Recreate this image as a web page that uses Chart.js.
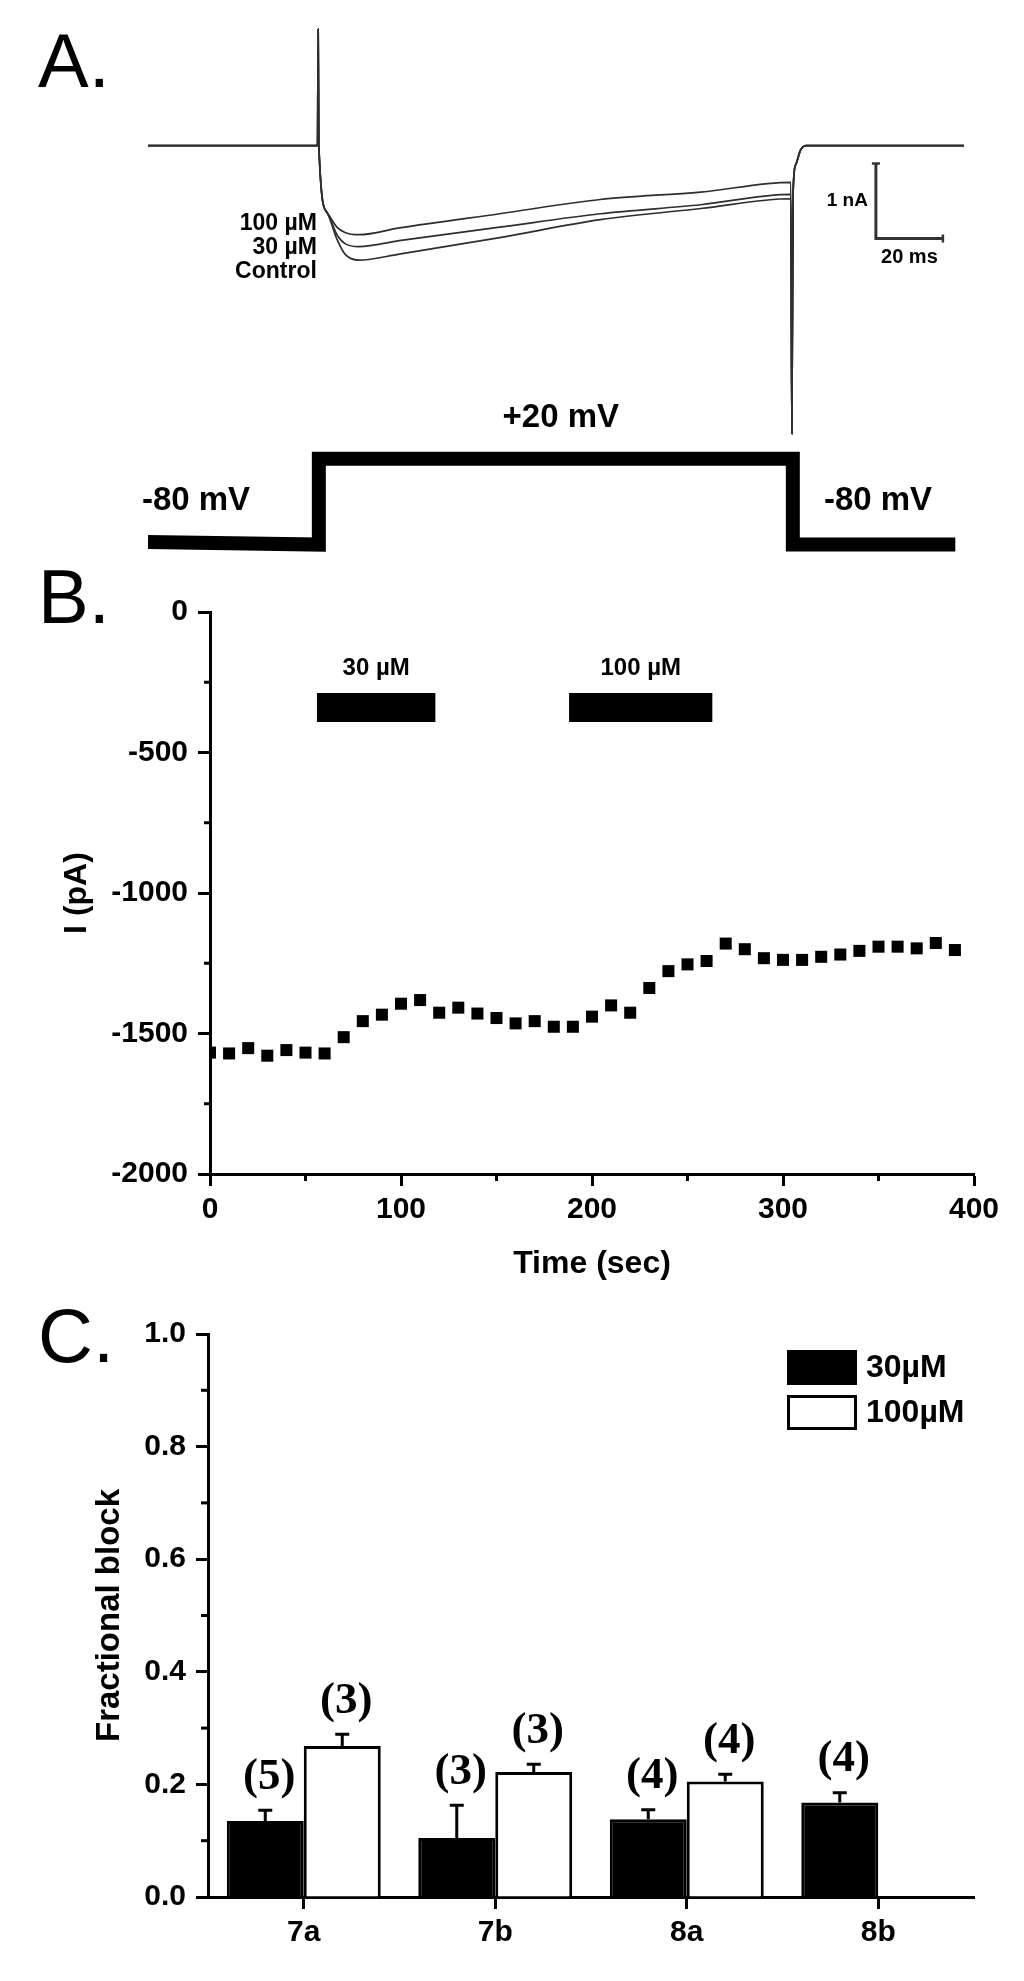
<!DOCTYPE html>
<html>
<head>
<meta charset="utf-8">
<script src="https://cdn.jsdelivr.net/npm/chart.js@4.4.1/dist/chart.umd.min.js"></script>
<style>
  body { margin: 0; background: #fff; }
  #page { position: relative; width: 1024px; height: 1981px; overflow: hidden; background: #fff; }
  canvas { position: absolute; left: 0; }
  .panel { position: absolute; left: 38px; font: 76px/76px 'Liberation Sans', Arial, sans-serif; color: #000; z-index: 2; }
</style>
</head>
<body>
<div id="page">
  <canvas id="chartA" width="1024" height="575" style="top:0"></canvas>
  <canvas id="chartB" width="1024" height="725" style="top:575px"></canvas>
  <canvas id="chartC" width="1024" height="681" style="top:1300px"></canvas>
  <div class="panel" style="top:23px">A.</div>
  <div class="panel" style="top:559px">B.</div>
  <div class="panel" style="top:1298px">C.</div>
</div>
<script>
const SANS = "'Liberation Sans', Arial, sans-serif";
const SERIF = "'Liberation Serif', 'Times New Roman', serif";

// A: current traces (ms, nA) during the voltage step
const traceTime = [0, 50.6, 50.8, 51.0, 53.4, 56.4, 58.8, 63, 75, 105, 135, 165, 191.9, 192.2, 192.6, 193.4, 194.8, 196.5, 243.6];
const traceControl = [0, 0, 1.56, 0, -0.89, -1.25, -1.45, -1.53, -1.45, -1.23, -0.99, -0.84, -0.71, -3.85, -0.6, -0.25, -0.06, 0, 0];
const trace30 = [0, 0, 1.56, 0, -0.89, -1.19, -1.31, -1.35, -1.27, -1.09, -0.91, -0.79, -0.65, -3.85, -0.6, -0.25, -0.06, 0, 0];
const trace100 = [0, 0, 1.56, 0, -0.89, -1.09, -1.16, -1.19, -1.10, -0.91, -0.72, -0.62, -0.49, -3.85, -0.6, -0.25, -0.06, 0, 0];
const traceNames = ['100 µM', '30 µM', 'Control'];

// A: voltage protocol (ms, mV)
const stepTime = [0, 51, 51, 192.5, 192.5, 241];
const stepVolt = [-77, -80, 20, 20, -80, -80];

// A: scale bar 20 ms / 1 nA
const barOrigin = [217.3, -1.24];
const barMs = 20;
const barNa = 1;

// B: time course
const timeSec = [0, 10, 20, 30, 40, 50, 60, 70, 80, 90, 100, 110, 120, 130, 140, 150, 160, 170, 180, 190,
  200, 210, 220, 230, 240, 250, 260, 270, 280, 290, 300, 310, 320, 330, 340, 350, 360, 370, 380, 390];
const currentPA = [-1568, -1571, -1552, -1579, -1559, -1568, -1571, -1513, -1456, -1433, -1394, -1381, -1426, -1408, -1429, -1445, -1464, -1456, -1476, -1476,
  -1440, -1400, -1426, -1338, -1278, -1254, -1242, -1180, -1200, -1232, -1238, -1238, -1227, -1219, -1206, -1191, -1191, -1197, -1178, -1203];
const drugNames = ['30 µM', '100 µM'];
const drugOn = [56, 188];
const drugOff = [118, 263];

// C: fractional block
const compounds = ['7a', '7b', '8a', '8b'];
const block30 = [0.135, 0.105, 0.138, 0.168];
const err30 = [0.019, 0.058, 0.017, 0.017];
const n30 = [5, 3, 4, 4];
const block100 = [0.268, 0.222, 0.205, null];
const err100 = [0.021, 0.014, 0.013, null];
const n100 = [3, 3, 4, null];

Chart.defaults.font.family = SANS;
Chart.defaults.color = '#000';
Chart.defaults.animation = false;

function pts(xs, ys) { return xs.map((x, i) => ({x: x, y: ys[i]})); }

// small ticks between the labelled ones
const minorTicks = {
  id: 'minorTicks',
  afterDraw(chart, args, opts) {
    const ctx = chart.ctx;
    ctx.save();
    ctx.strokeStyle = '#000';
    ctx.lineWidth = 3;
    (opts.list || []).forEach(m => {
      const s = chart.scales[m.axis];
      for (let v = m.from; v <= m.to + 1e-9; v += m.step) {
        const p = s.getPixelForValue(v);
        ctx.beginPath();
        if (s.isHorizontal()) { ctx.moveTo(p, s.top); ctx.lineTo(p, s.top + m.len); }
        else { ctx.moveTo(s.right, p); ctx.lineTo(s.right - m.len, p); }
        ctx.stroke();
      }
    });
    ctx.restore();
  }
};

const traceLabels = {
  id: 'traceLabels',
  afterDraw(chart) {
    const ctx = chart.ctx, x = chart.scales.x, yV = chart.scales.yV, yI = chart.scales.y;
    ctx.save();
    ctx.fillStyle = '#000';
    ctx.textBaseline = 'middle';
    ctx.font = 'bold 23px ' + SANS;
    ctx.textAlign = 'right';
    const xOn = x.getPixelForValue(stepTime[1]) - 2;
    traceNames.forEach((t, k) => ctx.fillText(t, xOn, 224 + 24 * k));

    ctx.font = 'bold 33px ' + SANS;
    ctx.textAlign = 'center';
    const top = yV.getPixelForValue(20), low = yV.getPixelForValue(-80);
    ctx.fillText('+20 mV', (x.getPixelForValue(stepTime[2]) + x.getPixelForValue(stepTime[3])) / 2 + 5, top - 41);
    ctx.fillText('-80 mV', 196, low - 44);
    ctx.fillText('-80 mV', 878, low - 44);

    const bx = x.getPixelForValue(barOrigin[0]);
    const by = yI.getPixelForValue(barOrigin[1]);
    const btop = yI.getPixelForValue(barOrigin[1] + barNa);
    const bright = x.getPixelForValue(barOrigin[0] + barMs);
    ctx.font = 'bold 19px ' + SANS;
    ctx.textAlign = 'right';
    ctx.fillText('1 nA', bx - 8, (by + btop) / 2);
    ctx.textAlign = 'center';
    ctx.font = 'bold 20px ' + SANS;
    ctx.fillText('20 ms', (bx + bright) / 2, by + 19);
    ctx.restore();
  }
};

new Chart(document.getElementById('chartA'), {
  type: 'line',
  data: {
    datasets: [
      {data: pts(traceTime, traceControl), borderColor: '#2e2e2e', borderWidth: 1.7, cubicInterpolationMode: 'monotone', pointRadius: 0},
      {data: pts(traceTime, trace30), borderColor: '#2e2e2e', borderWidth: 1.7, cubicInterpolationMode: 'monotone', pointRadius: 0},
      {data: pts(traceTime, trace100), borderColor: '#2e2e2e', borderWidth: 1.7, cubicInterpolationMode: 'monotone', pointRadius: 0},
      {data: pts(stepTime, stepVolt), yAxisID: 'yV', borderColor: '#000', borderWidth: 14, borderJoinStyle: 'miter', tension: 0, pointRadius: 0},
      {data: [{x: barOrigin[0], y: barOrigin[1] + barNa}, {x: barOrigin[0], y: barOrigin[1]}, {x: barOrigin[0] + barMs, y: barOrigin[1]}],
        borderColor: '#333', borderWidth: 3, tension: 0,
        pointStyle: 'line', pointRadius: [4, 0, 4], pointRotation: [0, 0, 90], pointBorderWidth: 2.5, pointBorderColor: '#333'}
    ]
  },
  options: {
    responsive: false,
    events: [],
    layout: {padding: {left: 148, right: 60, top: 20, bottom: 5}},
    plugins: {legend: {display: false}, tooltip: {enabled: false}},
    scales: {
      x: {type: 'linear', display: false, min: 0, max: 243.6},
      y: {display: false, min: -5.653, max: 1.68},
      yV: {display: false, min: -107.9, max: 531.6}
    }
  },
  plugins: [traceLabels]
});

const drugLabels = {
  id: 'drugLabels',
  afterDraw(chart) {
    const ctx = chart.ctx, x = chart.scales.x, y = chart.scales.y;
    ctx.save();
    ctx.fillStyle = '#000';
    ctx.font = 'bold 24px ' + SANS;
    ctx.textAlign = 'center';
    ctx.textBaseline = 'middle';
    drugNames.forEach((t, i) => {
      ctx.fillText(t, x.getPixelForValue((drugOn[i] + drugOff[i]) / 2), y.getPixelForValue(-340) - 39);
    });
    ctx.restore();
  }
};

const drugBars = drugNames.map((t, i) => ({
  data: [{x: drugOn[i], y: -340}, {x: drugOff[i], y: -340}],
  showLine: true, borderColor: '#000', borderWidth: 29, borderCapStyle: 'butt', pointRadius: 0
}));

const axisGrid = {drawOnChartArea: false, drawTicks: true, tickLength: 12, tickWidth: 3, tickColor: '#000'};
const axisBorder = {display: true, color: '#000', width: 3};

new Chart(document.getElementById('chartB'), {
  type: 'scatter',
  data: {
    datasets: [
      {data: pts(timeSec, currentPA), pointStyle: 'rect', pointRadius: 8.5, backgroundColor: '#000', borderWidth: 0, clip: 0}
    ].concat(drugBars)
  },
  options: {
    responsive: false,
    events: [],
    layout: {padding: {left: 0, right: 50, top: 37, bottom: 0}},
    plugins: {
      legend: {display: false}, tooltip: {enabled: false},
      minorTicks: {list: [
        {axis: 'y', from: -1750, to: -250, step: 500, len: 6},
        {axis: 'x', from: 50, to: 350, step: 100, len: 7}
      ]}
    },
    scales: {
      x: {
        min: 0, max: 400,
        ticks: {stepSize: 100, padding: 6, font: {size: 30, weight: 'bold'}, callback: v => String(v)},
        grid: axisGrid, border: axisBorder,
        title: {display: true, text: 'Time (sec)', font: {size: 32, weight: 'bold'}, padding: {top: 0, bottom: 17}},
        afterFit: s => { s.height = 126; }
      },
      y: {
        min: -2000, max: 0,
        ticks: {stepSize: 500, padding: 10, font: {size: 30, weight: 'bold'}, callback: v => String(v)},
        grid: axisGrid, border: axisBorder,
        title: {display: true, text: 'I (pA)', font: {size: 32, weight: 'bold'}, padding: {top: 58, bottom: 0}},
        afterFit: s => { s.width = 210; }
      }
    }
  },
  plugins: [minorTicks, drugLabels]
});

const errorBars = {
  id: 'errorBars',
  afterDatasetsDraw(chart) {
    const ctx = chart.ctx, y = chart.scales.y;
    ctx.save();
    ctx.strokeStyle = '#000';
    ctx.fillStyle = '#000';
    ctx.lineWidth = 3;
    ctx.font = 'bold 45px ' + SERIF;
    ctx.textAlign = 'center';
    ctx.textBaseline = 'middle';
    chart.data.datasets.forEach((ds, i) => {
      chart.getDatasetMeta(i).data.forEach((bar, j) => {
        const v = ds.data[j], e = ds.errors[j];
        if (v == null || e == null) return;
        const top = y.getPixelForValue(v + e);
        ctx.beginPath();
        ctx.moveTo(bar.x, bar.y);
        ctx.lineTo(bar.x, top);
        ctx.moveTo(bar.x - 7, top);
        ctx.lineTo(bar.x + 7, top);
        ctx.stroke();
        ctx.fillText('(' + ds.counts[j] + ')', bar.x + 4, top - 33);
      });
    });
    ctx.restore();
  }
};

const boxLegend = {
  id: 'boxLegend',
  afterDraw(chart) {
    const ctx = chart.ctx, a = chart.chartArea;
    ctx.save();
    chart.data.datasets.forEach((ds, i) => {
      const x = a.right - 187, y = a.top + 16 + i * 45;
      ctx.fillStyle = ds.backgroundColor;
      ctx.fillRect(x, y, 70, 35);
      ctx.strokeStyle = '#000';
      ctx.lineWidth = 3;
      ctx.strokeRect(x + 1.5, y + 1.5, 67, 32);
      ctx.fillStyle = '#000';
      ctx.font = 'bold 32px ' + SANS;
      ctx.textAlign = 'left';
      ctx.textBaseline = 'middle';
      ctx.fillText(ds.label, x + 79, y + 18);
    });
    ctx.restore();
  }
};

new Chart(document.getElementById('chartC'), {
  type: 'bar',
  data: {
    labels: compounds,
    datasets: [
      {label: '30µM', data: block30, errors: err30, counts: n30, backgroundColor: '#000', borderColor: '#000', borderWidth: 3},
      {label: '100µM', data: block100, errors: err100, counts: n100, backgroundColor: '#fff', borderColor: '#000', borderWidth: 3}
    ]
  },
  options: {
    responsive: false,
    events: [],
    categoryPercentage: 0.804,
    barPercentage: 1.0,
    layout: {padding: {left: 0, right: 50, top: 34, bottom: 0}},
    plugins: {
      legend: {display: false}, tooltip: {enabled: false},
      minorTicks: {list: [{axis: 'y', from: 0.1, to: 0.9, step: 0.2, len: 7}]}
    },
    scales: {
      x: {
        ticks: {padding: 6, font: {size: 30, weight: 'bold'}},
        grid: Object.assign({offset: false}, axisGrid), border: axisBorder,
        afterFit: s => { s.height = 84; }
      },
      y: {
        min: 0, max: 1,
        ticks: {stepSize: 0.2, padding: 10, font: {size: 30, weight: 'bold'}, callback: v => v.toFixed(1)},
        grid: axisGrid, border: axisBorder,
        title: {display: true, text: 'Fractional block', font: {size: 33, weight: 'bold'}, padding: {top: 90, bottom: 0}},
        afterFit: s => { s.width = 208; }
      }
    }
  },
  plugins: [minorTicks, errorBars, boxLegend]
});
</script>
</body>
</html>
